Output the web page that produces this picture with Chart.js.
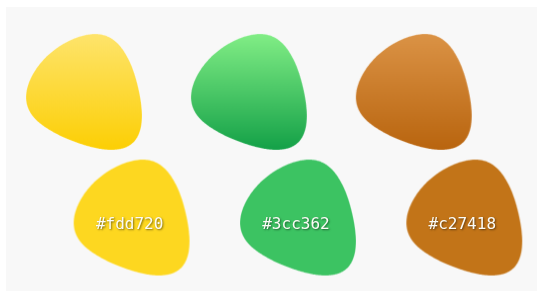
<!DOCTYPE html>
<html>
<head>
<meta charset="utf-8">
<script src="https://cdn.jsdelivr.net/npm/chart.js@4/dist/chart.umd.min.js"></script>
<style>
  html, body { margin: 0; padding: 0; background: #ffffff; }
  #wrap { position: relative; width: 537px; height: 295px; overflow: hidden; }
  #panel { position: absolute; left: 6px; top: 7px; right: 0; bottom: 4px; background: #f8f8f8; }
  #holder { position: absolute; left: 0; top: 0; width: 537px; height: 295px; }
</style>
</head>
<body>
<div id="wrap">
  <div id="panel"></div>
  <div id="holder"><canvas id="c"></canvas></div>
</div>
<script>
// ---- data ----
const colorNames = ['#fdd720', '#3cc362', '#c27418'];   // categories (one per column)
const rowNames = ['gradient', 'flat'];                    // rows
const gradientTop = ['#fee46c', '#82ee86', '#db9346'];    // top-row gradient start
const gradientBottom = ['#fccf05', '#14a148', '#b9650f']; // top-row gradient end
const flatFill = ['#fdd720', '#3cc362', '#c27418'];       // bottom-row fills
const swatchLabels = ['#fdd720', '#3cc362', '#c27418'];   // texts on the flat swatches

// ---- blob pointStyle: rounded triangle (quadratic B-spline) with a fuller upper-left side ----
const corners = [[92, -36], [-36, 79], [132, 140]];
const bulgeSize = 9;
function outlinePoints() {
  const pts = [];
  for (let i = 0; i < 3; i++) {
    const prev = corners[(i + 2) % 3], v = corners[i], next = corners[(i + 1) % 3];
    const p = [(prev[0] + v[0]) / 2, (prev[1] + v[1]) / 2], q = [(v[0] + next[0]) / 2, (v[1] + next[1]) / 2];
    for (let k = 0; k < 120; k++) {
      const t = k / 120, a = (1 - t) * (1 - t), b = 2 * t * (1 - t), d = t * t;
      pts.push([a * p[0] + b * v[0] + d * q[0], a * p[1] + b * v[1] + d * q[1]]);
    }
  }
  const gx = (corners[0][0] + corners[1][0] + corners[2][0]) / 3;
  const gy = (corners[0][1] + corners[1][1] + corners[2][1]) / 3;
  const th0 = Math.atan2(-0.69, -0.72);
  return pts.map(([x, y]) => {
    const dx = x - gx, dy = y - gy, len = Math.hypot(dx, dy);
    const c = Math.max(0, Math.cos(Math.atan2(dy, dx) - th0));
    const push = bulgeSize * c * c;
    return [x + dx / len * push, y + dy / len * push];
  });
}
const outline = outlinePoints();
function makeBlob(fillA, fillB) {
  let x0 = 1e9, x1 = -1e9, y0 = 1e9, y1 = -1e9;
  outline.forEach(([x, y]) => { x0 = Math.min(x0, x); x1 = Math.max(x1, x); y0 = Math.min(y0, y); y1 = Math.max(y1, y); });
  const cv = document.createElement('canvas');
  cv.width = 130; cv.height = 130;
  const ctx = cv.getContext('2d');
  ctx.translate(65, 65);
  ctx.scale(116 / (x1 - x0), 116 / (y1 - y0));
  ctx.translate(-(x0 + x1) / 2, -(y0 + y1) / 2);
  ctx.beginPath();
  outline.forEach(([x, y], i) => (i ? ctx.lineTo(x, y) : ctx.moveTo(x, y)));
  ctx.closePath();
  if (fillB) {
    const g = ctx.createLinearGradient(0, y0, 0, y1);
    g.addColorStop(0, fillA);
    g.addColorStop(1, fillB);
    ctx.fillStyle = g;
  } else {
    ctx.fillStyle = fillA;
  }
  ctx.fill();
  ctx.lineWidth = 1;
  ctx.strokeStyle = 'rgba(255,255,255,0.25)';
  ctx.stroke();
  return cv;
}
const topStyles = colorNames.map((_, i) => makeBlob(gradientTop[i], gradientBottom[i]));
const botStyles = colorNames.map((_, i) => makeBlob(flatFill[i]));

const labelPlugin = {
  id: 'swatchLabels',
  afterDatasetsDraw(chart) {
    const ctx = chart.ctx;
    const meta = chart.getDatasetMeta(1);
    ctx.save();
    ctx.font = '16px "DejaVu Sans Mono", monospace';
    ctx.textAlign = 'center';
    ctx.textBaseline = 'middle';
    ctx.fillStyle = '#fbfbf6';
    ctx.shadowColor = 'rgba(0,0,0,0.5)';
    ctx.shadowBlur = 2;
    ctx.shadowOffsetX = 1;
    ctx.shadowOffsetY = 1;
    meta.data.forEach((pt, i) => {
      ctx.fillText(swatchLabels[i], pt.x - 2, pt.y + 7);
    });
    ctx.restore();
  }
};

new Chart(document.getElementById('c'), {
  type: 'scatter',
  data: {
    datasets: [
      {
        label: rowNames[0],
        xAxisID: 'xTop',
        data: colorNames.map((_, i) => ({ x: i, y: 0 })),
        pointStyle: topStyles,
        pointRadius: 3
      },
      {
        label: rowNames[1],
        xAxisID: 'xBot',
        data: colorNames.map((_, i) => ({ x: i, y: 1 })),
        pointStyle: botStyles,
        pointRadius: 3
      }
    ]
  },
  options: {
    responsive: true,
    maintainAspectRatio: false,
    animation: false,
    events: [],
    layout: { padding: 0 },
    plugins: { legend: { display: false }, tooltip: { enabled: false } },
    scales: {
      xTop: { type: 'linear', display: false, min: -0.479, max: 2.717 },
      xBot: { type: 'linear', display: false, min: -0.761, max: 2.407 },
      y: { type: 'linear', display: false, reverse: true, min: -0.692, max: 1.577 }
    }
  },
  plugins: [labelPlugin]
});
</script>
</body>
</html>
